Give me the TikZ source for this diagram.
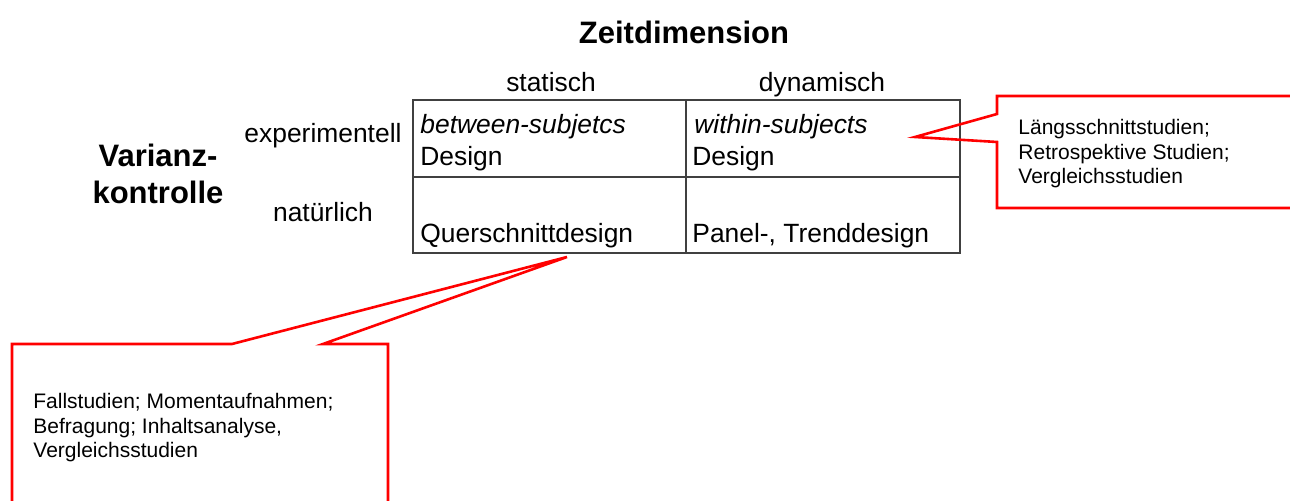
\documentclass[tikz,border=0pt]{standalone}
\usepackage{fontspec}
\setmainfont{Liberation Sans}
\usetikzlibrary{positioning,calc}
\tikzset{
  grid/.style={draw=black!75, line width=1.1pt},
  callout/.style={draw=red, line width=1.3pt, line join=miter},
  head/.style={font=\bfseries\fontsize{15.5}{18.5}\selectfont, inner sep=0pt, align=center},
  lbl/.style={font=\fontsize{13.2}{16}\selectfont, inner sep=0pt},
  celltxt/.style={lbl, anchor=base west},
  note/.style={font=\fontsize{10.5}{12.3}\selectfont, inner sep=0pt, align=left, anchor=base west}
}

\begin{document}
\begin{tikzpicture}[x=0.5pt, y=-0.5pt]
\useasboundingbox (0,0) rectangle (1290,501);
\clip (0,0) rectangle (1290,501);

% headings (multi-line nodes sit on their last baseline)
\node[head, anchor=base] (zeit) at (684,44) {Zeitdimension};
\node[head, anchor=base] (varianz) at (158,204) {Varianz-\\kontrolle};
\node[lbl, anchor=base] (stat) at (551,92) {statisch};
\node[lbl, anchor=base] (dyn) at (822,92) {dynamisch};
\node[lbl, anchor=base] (exp) at (323,143) {experimentell};
\node[lbl, anchor=base] (nat) at (323,222) {natürlich};

% 2x2 table
\draw[grid] (413,100) rectangle (960,253);
\draw[grid] (686,100) -- (686,253) (413,177) -- (960,177);
\node[celltxt] (bs) at (420,134) {\itshape between-subjetcs};
\node[celltxt] (bsd) at (420,166) {Design};
\node[celltxt] (ws) at (694,134) {\itshape within-subjects};
\node[celltxt] (wsd) at (692,166) {Design};
\node[celltxt] (qd) at (420,243) {Querschnittdesign};
\node[celltxt] (pt) at (692,243) {Panel-, Trenddesign};

% callouts
\coordinate (tipA) at (915,137);
\coordinate (tipB) at (567,257);
\draw[callout] (1300,96) -- (997,96) -- (997,114) -- (tipA) -- (997,142) -- (997,208) -- (1300,208);
\draw[callout] (12,512) -- (12,344) -- (232,344) -- (tipB) -- (323,344) -- (388,344) -- (388,512);
\node[note] (dynnote) at (1018,184) {Längsschnittstudien;\\Retrospektive Studien;\\Vergleichsstudien};
\node[note] (statnote) at (33,458) {Fallstudien; Momentaufnahmen;\\Befragung; Inhaltsanalyse,\\Vergleichsstudien};
\end{tikzpicture}
\end{document}
